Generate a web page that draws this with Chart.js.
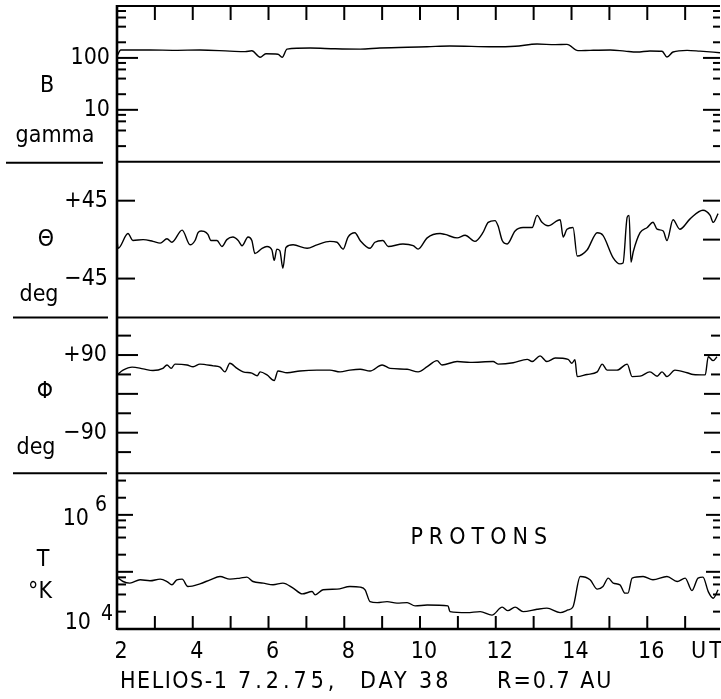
<!DOCTYPE html>
<html>
<head>
<meta charset="utf-8">
<title>HELIOS-1 day 38</title>
<script src="https://cdn.jsdelivr.net/npm/chart.js@4/dist/chart.umd.min.js"></script>
<style>
  html, body { margin: 0; padding: 0; background: #fff; }
  #wrap { width: 721px; height: 699px; }
</style>
</head>
<body>
<div id="wrap"><canvas id="chart" width="721" height="699"></canvas></div>
<script>
// ===============================
// DATA (time in hours UT)
// ===============================
const bTime  = [2.00, 2.10, 2.87, 3.53, 4.19, 4.98, 5.38, 5.56, 5.78, 5.93, 6.25, 6.36, 6.49, 7.10, 7.76, 8.42, 8.94, 10.19, 10.79, 11.93, 12.51, 13.09, 13.57, 13.88, 14.17, 14.49, 15.02, 15.41, 15.73, 16.07, 16.39, 16.52, 16.68, 17.05, 17.39, 17.92];
const bGamma = [108, 142, 142, 140, 142, 135, 132, 137, 103, 120, 118, 103, 148, 155, 150, 148, 155, 164, 170, 164, 168, 185, 180, 182, 138, 140, 142, 135, 130, 136, 134, 104, 130, 140, 135, 126];

const thetaTime = [2.00, 2.03, 2.29, 2.42, 2.69, 2.95, 3.14, 3.32, 3.45, 3.72, 3.93, 4.06, 4.14, 4.22, 4.30, 4.40, 4.48, 4.64, 4.77, 4.90, 5.06, 5.20, 5.30, 5.46, 5.56, 5.64, 5.83, 5.96, 6.09, 6.15, 6.22, 6.30, 6.38, 6.46, 6.65, 7.02, 7.28, 7.62, 7.81, 7.97, 8.10, 8.28, 8.42, 8.68, 8.81, 9.02, 9.16, 9.55, 9.82, 9.95, 10.19, 10.53, 10.66, 10.98, 11.19, 11.45, 11.66, 11.80, 11.98, 12.06, 12.17, 12.30, 12.51, 12.72, 12.96, 13.09, 13.22, 13.38, 13.70, 13.78, 13.88, 14.04, 14.15, 14.41, 14.68, 14.83, 15.10, 15.28, 15.36, 15.47, 15.52, 15.57, 15.63, 15.81, 16.00, 16.15, 16.26, 16.42, 16.52, 16.68, 16.86, 17.13, 17.47, 17.66, 17.74, 17.87];
const thetaDeg  = [-1, -10, 7, -1, 0, -2, -4, 1, -3, 11, -6, -1, 8, 10, 9.5, 6, -1, -1, -8, 0, 3, -1, -7, 3, -1, -16, -10, -8, -12, -24, -11, -13, -33, -9, -6, -10, -6, -2, -3, -11, 3, 8, -1, -10, -3, -1, -8, -5, -7, -11, 2, 7, 6, 2, 5, -2, 8, 20, 22, 16, -1, -5, 10, 14, 14, 28, 20, 16, 23, 3, 12, 14, -19, -12, 8, 5, -21, -28, -27, 26, 28, -26, -14, 8, 14, 20, 12, 10, -1, 23, 12, 24, 34, 28, 20, 30];

const phiTime = [2.00, 2.16, 2.40, 2.69, 2.95, 3.21, 3.32, 3.43, 3.53, 3.85, 4.01, 4.19, 4.54, 4.72, 4.85, 4.98, 5.17, 5.33, 5.56, 5.70, 5.78, 5.96, 6.15, 6.25, 6.49, 6.83, 7.28, 7.62, 7.89, 8.15, 8.42, 8.68, 9.00, 9.21, 9.66, 9.95, 10.19, 10.45, 10.58, 10.98, 11.32, 11.93, 12.06, 12.46, 12.83, 12.96, 13.17, 13.35, 13.57, 13.91, 14.01, 14.09, 14.15, 14.41, 14.68, 14.81, 14.94, 15.20, 15.47, 15.60, 15.81, 16.07, 16.26, 16.39, 16.52, 16.73, 17.05, 17.21, 17.53, 17.61, 17.74, 17.84];
const phiDeg  = [44, 55, 62, 58, 54, 59, 67, 59, 69, 67, 63, 69, 65, 62, 51, 71, 59, 51, 48, 42, 51, 44, 31, 53, 49, 53, 55, 55, 51, 55, 57, 53, 67, 59, 57, 51, 63, 77, 67, 75, 73, 75, 69, 72, 80, 75, 88, 75, 83, 80, 71, 79, 40, 45, 51, 69, 55, 55, 69, 40, 41, 51, 41, 51, 40, 55, 49, 45, 44, 86, 77, 86];

const tTime   = [2.03, 2.16, 2.34, 2.61, 2.87, 3.14, 3.32, 3.45, 3.58, 3.72, 3.87, 4.19, 4.46, 4.72, 4.98, 5.25, 5.43, 5.59, 5.86, 6.12, 6.38, 6.65, 6.89, 7.15, 7.23, 7.44, 7.81, 8.15, 8.42, 8.55, 8.68, 8.87, 9.13, 9.39, 9.66, 9.87, 10.19, 10.74, 10.79, 11.24, 11.59, 11.90, 12.17, 12.32, 12.51, 12.72, 13.09, 13.35, 13.70, 13.91, 14.04, 14.23, 14.49, 14.68, 14.83, 14.97, 15.10, 15.28, 15.41, 15.49, 15.60, 15.89, 16.15, 16.52, 16.79, 17.00, 17.18, 17.34, 17.47, 17.61, 17.74, 17.87];
const tKelvin = [38800, 33800, 31700, 36200, 34800, 37200, 33800, 29600, 36200, 37200, 27600, 30800, 36200, 41400, 37200, 38800, 40400, 33800, 31700, 29600, 31700, 25900, 20500, 22500, 19700, 24200, 24800, 27600, 26900, 24200, 15000, 14400, 15000, 14100, 14400, 12600, 13100, 12600, 10000, 9600, 10000, 8700, 12000, 10400, 12000, 10000, 11000, 11500, 9600, 10700, 12200, 41400, 36200, 24800, 27600, 38800, 31700, 29600, 21100, 21100, 38800, 41400, 36200, 41400, 33800, 38800, 23400, 38800, 40400, 22500, 17200, 24200];

// axis ticks
const hourTicks = [2, 3, 4, 5, 6, 7, 8, 9, 10, 11, 12, 13, 14, 15, 16, 17];
const hourLabels = [2, 4, 6, 8, 10, 12, 14, 16];
const bMajor = [10, 100];
const bMinor = [2, 4, 6, 8, 20, 40, 60, 80, 200, 400, 600, 800];
const thetaLeft = [45, -45];
const thetaRight = [45, 0, -45];
const phiMajor = [90, 0, -90];
const phiMinor = [135, 45, -45, -135];
const tMajor = [5e4, 5e5];
const tMinor = [1e4, 2e4, 3e4, 4e4, 1e5, 2e5, 3e5, 4e5, 1e6, 2e6];

const FONT = '"DejaVu Sans Condensed", "Liberation Sans Narrow", "DejaVu Sans", sans-serif';

function pts(xs, ys) {
  return xs.map((x, i) => ({ x: x, y: ys[i] }));
}

function line(ctx, x1, y1, x2, y2, w) {
  ctx.lineWidth = w;
  ctx.beginPath();
  ctx.moveTo(x1, y1);
  ctx.lineTo(x2, y2);
  ctx.stroke();
}

// ===============================
// FRAME, TICKS AND LABELS
// ===============================
const framePlugin = {
  id: 'frame',
  afterDraw(chart) {
    const { ctx, chartArea: a, scales } = chart;
    const sx = scales.x, yB = scales.yB, yTh = scales.yTh, yPhi = scales.yPhi, yT = scales.yT;
    ctx.save();
    ctx.strokeStyle = '#000';
    ctx.fillStyle = '#000';
    ctx.lineCap = 'butt';

    // frame
    line(ctx, a.left, a.top - 1, a.left, a.bottom + 1, 2.6);
    line(ctx, a.left, a.top, a.right, a.top, 2);
    line(ctx, a.left, a.bottom, a.right, a.bottom, 2.4);
    [yB, yTh, yPhi].forEach(s => line(ctx, a.left, s.bottom, a.right, s.bottom, 2));

    // separators in the label column
    line(ctx, 6, yB.bottom + 1, 103, yB.bottom + 1, 2.2);
    line(ctx, 13, yTh.bottom, 108, yTh.bottom, 2.2);
    line(ctx, 13, yPhi.bottom, 107, yPhi.bottom, 2.2);

    // hour ticks, top and bottom
    hourTicks.slice(1).forEach(h => {
      const px = sx.getPixelForValue(h);
      line(ctx, px, a.top, px, a.top + 14, 2);
      line(ctx, px, a.bottom, px, a.bottom - 13, 2);
    });

    // y ticks
    const yTicks = (s, vals, lenL, lenR) => {
      vals.forEach(v => {
        const py = s.getPixelForValue(v);
        if (lenL) line(ctx, a.left, py, a.left + lenL, py, 2);
        if (lenR) line(ctx, a.right - lenR, py, a.right, py, 2);
      });
    };
    yTicks(yB, bMajor, 21, 17);
    yTicks(yB, bMinor, 9, 7);
    yTicks(yTh, thetaLeft, 18, 0);
    yTicks(yTh, thetaRight, 0, 17);
    yTicks(yPhi, phiMajor, 21, 16);
    yTicks(yPhi, phiMinor, 14, 9);
    yTicks(yT, tMajor, 16, 14);
    yTicks(yT, tMinor, 9, 7);

    // tick labels
    ctx.font = '23px ' + FONT;
    ctx.textBaseline = 'middle';
    ctx.textAlign = 'right';
    ctx.fillText('100', 110, yB.getPixelForValue(100));
    ctx.fillText('10', 110, yB.getPixelForValue(10));
    ctx.fillText('+45', 108, yTh.getPixelForValue(45));
    ctx.fillText('\u221245', 108, yTh.getPixelForValue(-45));
    ctx.fillText('+90', 107, yPhi.getPixelForValue(90));
    ctx.fillText('\u221290', 107, yPhi.getPixelForValue(-90));
    const p6 = yT.getPixelForValue(1e6), p4 = yT.getPixelForValue(1e4);
    ctx.fillText('10', 89, p6 + 21);
    ctx.fillText('10', 91, p4 + 11);
    ctx.textAlign = 'left';
    ctx.font = '21px ' + FONT;
    ctx.fillText('6', 95, p6 + 8);
    ctx.fillText('4', 101, p4 + 3);

    // axis names
    ctx.font = '23px ' + FONT;
    ctx.textAlign = 'center';
    ctx.fillText('B', 47, yB.top + 80);
    ctx.fillText('gamma', 55, yB.top + 130);
    ctx.fillText('\u0398', 46, yTh.top + 78);
    ctx.fillText('deg', 39, yTh.top + 133);
    ctx.fillText('\u03A6', 45, yPhi.top + 75);
    ctx.fillText('deg', 36, yPhi.top + 131);
    ctx.fillText('T', 43, yT.top + 87);
    ctx.fillText('\u00B0K', 40, yT.top + 119);

    // hour labels
    hourLabels.forEach(h => ctx.fillText(String(h), sx.getPixelForValue(h) + 4, a.bottom + 23));
    ctx.letterSpacing = '3px';
    ctx.fillText('UT', sx.getPixelForValue(17.55) + 2, a.bottom + 23);

    // annotations
    ctx.letterSpacing = '6px';
    ctx.fillText('PROTONS', sx.getPixelForValue(11.55) + 3, yT.getPixelForValue(2e5));
    ctx.textAlign = 'left';
    ctx.letterSpacing = '1.5px';
    ctx.fillText('HELIOS-1', 120, a.bottom + 53);
    ctx.letterSpacing = '4px';
    ctx.fillText('7.2.75,', 238, a.bottom + 53);
    ctx.letterSpacing = '3px';
    ctx.fillText('DAY 38', 360, a.bottom + 53);
    ctx.letterSpacing = '2px';
    ctx.fillText('R=0.7 AU', 497, a.bottom + 53);
    ctx.restore();
  }
};

// ===============================
// CHART
// ===============================
const hiddenY = {
  stack: 'panels',
  stackWeight: 1,
  ticks: { display: false },
  grid: { display: false, drawTicks: false, tickLength: 0 },
  border: { display: false }
};

const lineStyle = {
  borderColor: '#000',
  borderWidth: 1.4,
  pointRadius: 0,
  fill: false,
  cubicInterpolationMode: 'monotone'
};

new Chart(document.getElementById('chart').getContext('2d'), {
  type: 'line',
  data: {
    datasets: [
      Object.assign({ label: 'B', data: pts(bTime, bGamma), yAxisID: 'yB' }, lineStyle),
      Object.assign({ label: 'theta', data: pts(thetaTime, thetaDeg), yAxisID: 'yTh' }, lineStyle),
      Object.assign({ label: 'phi', data: pts(phiTime, phiDeg), yAxisID: 'yPhi' }, lineStyle),
      Object.assign({ label: 'T', data: pts(tTime, tKelvin), yAxisID: 'yT' }, lineStyle)
    ]
  },
  options: {
    responsive: false,
    animation: false,
    layout: { padding: { left: 117, right: 1, top: 6, bottom: 70 } },
    plugins: { legend: { display: false }, tooltip: { enabled: false } },
    scales: {
      x: { type: 'linear', min: 2, max: 17.92, display: false },
      yB: Object.assign({ type: 'logarithmic', min: 1, max: 1000, position: 'left', weight: 4 }, hiddenY),
      yTh: Object.assign({ type: 'linear', min: -90, max: 90, position: 'left', weight: 3 }, hiddenY),
      yPhi: Object.assign({ type: 'linear', min: -184, max: 177, position: 'left', weight: 2 }, hiddenY),
      yT: Object.assign({ type: 'logarithmic', min: 4955, max: 2.69e6, position: 'left', weight: 1 }, hiddenY)
    }
  },
  plugins: [framePlugin]
});
</script>
</body>
</html>
